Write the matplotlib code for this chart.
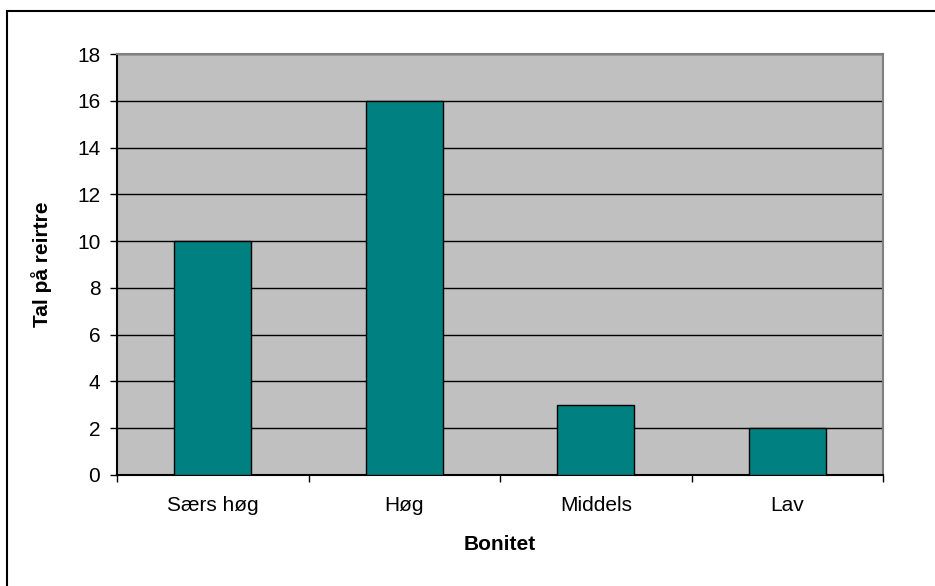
import matplotlib
matplotlib.use('Agg')
import matplotlib.pyplot as plt
from matplotlib.patches import Rectangle

categories = ['Særs høg', 'Høg', 'Middels', 'Lav']
counts = [10, 16, 3, 2]

plt.rcParams['font.family'] = ['Liberation Sans', 'DejaVu Sans']

W, H = 935, 586
fig = plt.figure(figsize=(W / 100, H / 100), dpi=100)
ax = fig.add_axes([117 / W, 1 - 475 / H, (883 - 117) / W, (475 - 54) / H])

# outer frame, only top and left edges fall inside the canvas
fig.patches.append(Rectangle((7 / W, -0.1), 1.2, 1 - 11 / H + 0.1,
                             transform=fig.transFigure, fill=False,
                             edgecolor='black', linewidth=1.5))

ax.set_facecolor('#C0C0C0')
x = range(len(categories))
ax.bar(x, counts, width=0.4, color='#008080', edgecolor='black',
       linewidth=1, zorder=3)

ax.set_xlim(-0.5, len(categories) - 0.5)
ax.set_ylim(0, 18)
ax.set_yticks(range(0, 19, 2))
ax.yaxis.grid(True, color='black', linewidth=1)
ax.set_axisbelow(True)

ax.set_xticks(list(x))
ax.set_xticklabels(categories)
ax.tick_params(axis='x', length=0, pad=15, labelsize=15)
ax.set_xticks([i - 0.5 for i in range(len(categories) + 1)], minor=True)
ax.tick_params(axis='x', which='minor', length=5, width=1, direction='out')
ax.tick_params(axis='y', length=5, width=1, labelsize=15, pad=7)

ax.spines['left'].set_color('black')
ax.spines['bottom'].set_color('black')
ax.spines['top'].set_color('#808080')
ax.spines['right'].set_color('#808080')
for s in ax.spines.values():
    s.set_linewidth(1.5)

ax.set_xlabel('Bonitet', fontsize=15, fontweight='bold')
ax.set_ylabel('Tal på reirtre', fontsize=15, fontweight='bold')
ax.xaxis.set_label_coords(0.5, (475 - 535) / 421)
ax.yaxis.set_label_coords((52 - 117) / 766, 0.5)

fig.savefig('out.png', dpi=100)
